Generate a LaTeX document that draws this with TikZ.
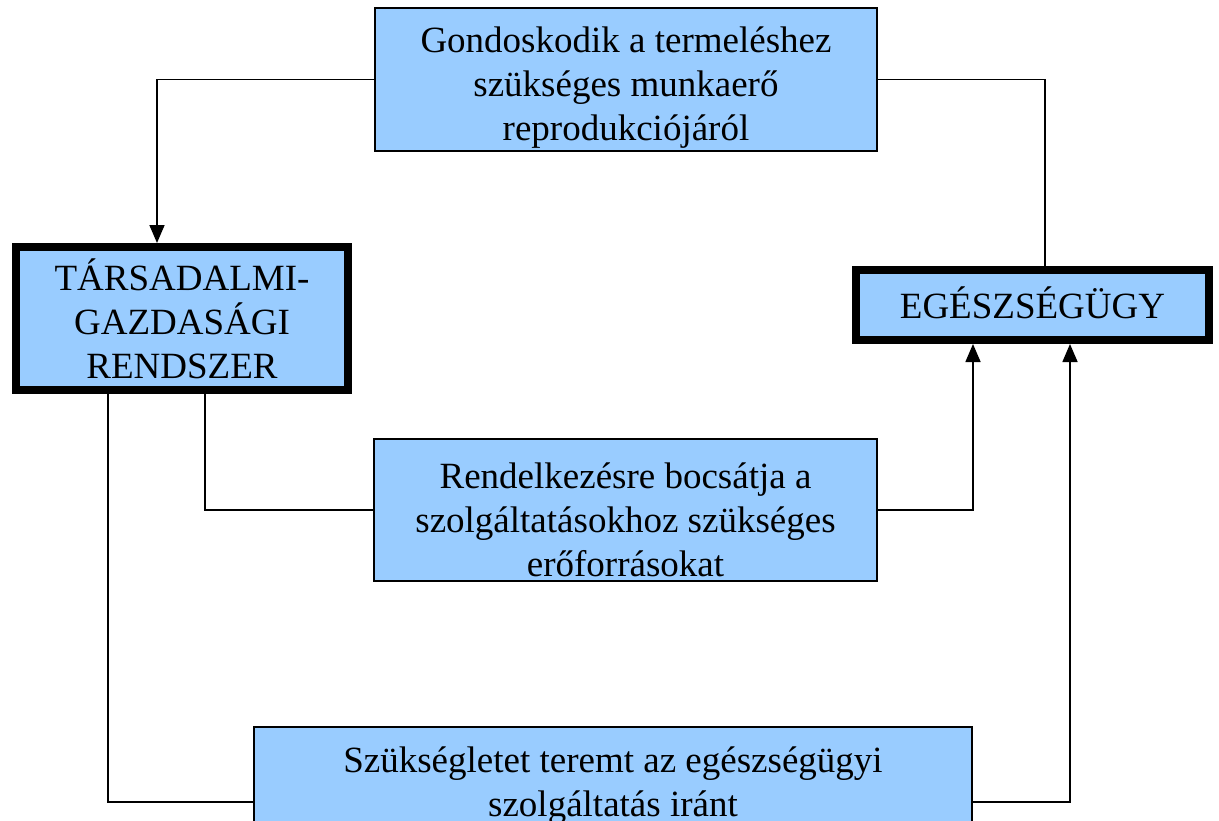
\documentclass[tikz,border=0pt]{standalone}
\usepackage{fontspec}
\setmainfont{Liberation Serif}
\usetikzlibrary{arrows.meta, positioning, calc}
\definecolor{BoxBlue}{HTML}{99CCFF}
\tikzset{
  box/.style={draw=black, line width=1.6pt, fill=BoxBlue, inner sep=0pt},
  bigbox/.style={draw=black, line width=8pt, fill=BoxBlue, inner sep=0pt},
  txt/.style={align=center, inner sep=0pt, font=\fontsize{37}{44}\selectfont},
  link/.style={line width=1.6pt, draw=black},
  arrow/.style={link, -{Triangle[length=18pt, width=15pt]}}
}

\begin{document}
\begin{tikzpicture}[x=1pt, y=-1pt]
\useasboundingbox (0,0) rectangle (1219,820);
\clip (0,0) rectangle (1219,820);
% boxes
\node[box, minimum width=502pt, minimum height=143pt] (gond) at (626,79.5) {};
\node[bigbox, minimum width=332pt, minimum height=143pt] (rendszer) at (182,318.5) {};
\node[bigbox, minimum width=353pt, minimum height=70pt] (egeszseg) at (1032.5,305) {};
\node[box, minimum width=503pt, minimum height=142pt] (forras) at (625.5,510) {};
\node[box, minimum width=718pt, minimum height=150pt] (igeny) at (613,802) {};
% texts
\node[txt, yshift=-8pt] (gondtxt) at (gond.center) {Gondoskodik a termeléshez\\szükséges munkaerő\\reprodukciójáról};
\node[txt] (rendszertxt) at (rendszer.center) {TÁRSADALMI-\\GAZDASÁGI\\RENDSZER};
\node[txt, yshift=2pt] (egeszsegtxt) at (egeszseg.center) {EGÉSZSÉGÜGY};
\node[txt, yshift=-10pt] (forrastxt) at (forras.center) {Rendelkezésre bocsátja a\\szolgáltatásokhoz szükséges\\erőforrásokat};
\node[txt] (igenytxt) at (613,786) {Szükségletet teremt az egészségügyi\\szolgáltatás iránt};
% connectors
\draw[arrow] (gond.west) -| ([xshift=-25pt]rendszer.north);
\draw[link] (gond.east) -| ([xshift=12.5pt]egeszseg.north);
\draw[link] ([xshift=23pt]rendszer.south) |- (forras.west);
\draw[arrow] (forras.east) -| ([xshift=-59.5pt]egeszseg.south);
\draw[link] ([xshift=-74pt]rendszer.south) |- (igeny.west);
\draw[arrow] (igeny.east) -| ([xshift=37.5pt]egeszseg.south);
\end{tikzpicture}
\end{document}
